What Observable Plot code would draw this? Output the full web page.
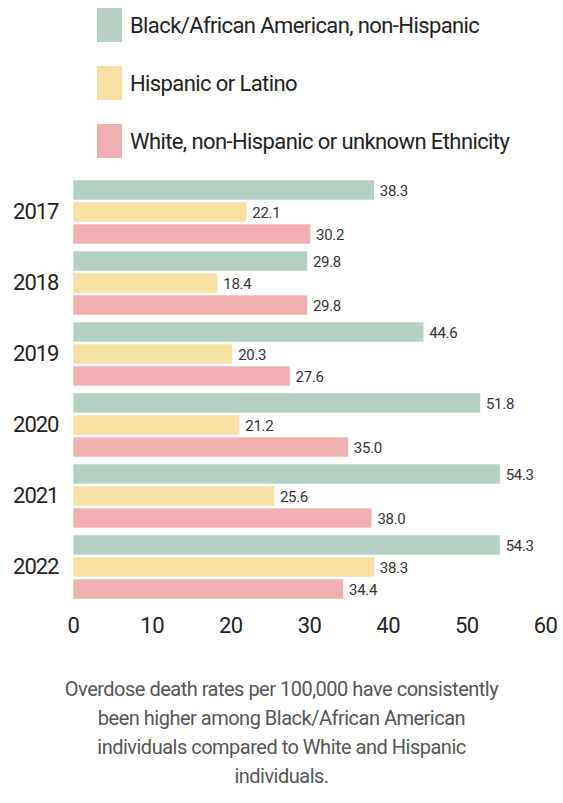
<!DOCTYPE html>
<html>
<head>
<meta charset="utf-8">
<script src="https://cdn.jsdelivr.net/npm/d3@7"></script>
<script src="https://cdn.jsdelivr.net/npm/@observablehq/plot@0.6"></script>
<style>
  html, body { margin: 0; padding: 0; background: #fff; }
  body { width: 563px; font-family: Roboto, "Liberation Sans", sans-serif; }
  #legend { height: 165px; position: relative; }
  .row { position: absolute; left: 97px; height: 34px; display: flex; align-items: center; white-space: nowrap; }
  .sw { width: 25px; height: 34px; margin-right: 8px; }
  .lab { font-size: 22px; color: #222; letter-spacing: -0.6px; }
  #caption { text-align: center; font-size: 20px; line-height: 29px; color: #555; padding: 20px 0 0 0; white-space: nowrap; letter-spacing: -0.5px; }
  .fyax text { letter-spacing: -1px; }
  .xax text { letter-spacing: -0.5px; }
  .vals text { letter-spacing: -0.3px; }
</style>
</head>
<body>
<div id="legend"></div>
<div id="chart"></div>
<div id="caption">Overdose death rates per 100,000 have consistently<br>been higher among Black/African American<br>individuals compared to White and Hispanic<br>individuals.</div>
<script>
const years = ["2017", "2018", "2019", "2020", "2021", "2022"];
const groups = ["Black/African American, non-Hispanic", "Hispanic or Latino", "White, non-Hispanic or unknown Ethnicity"];
const black = [38.3, 29.8, 44.6, 51.8, 54.3, 54.3];
const hispanic = [22.1, 18.4, 20.3, 21.2, 25.6, 38.3];
const white = [30.2, 29.8, 27.6, 35.0, 38.0, 34.4];
const xTicks = [0, 10, 20, 30, 40, 50, 60];
const colors = ["#b3d0c3", "#f8e0a4", "#f0b0b1"];

const series = [black, hispanic, white];
const data = [];
years.forEach((yr, i) => groups.forEach((g, j) => data.push({year: yr, group: g, value: series[j][i]})));

// legend
const legend = document.getElementById("legend");
groups.forEach((g, j) => {
  const row = document.createElement("div");
  row.className = "row";
  row.style.top = (8 + j * 58) + "px";
  row.innerHTML = `<div class="sw" style="background:${colors[j]}"></div><div class="lab">${g}</div>`;
  legend.appendChild(row);
});

const font = 'Roboto, "Liberation Sans", sans-serif';
const chart = Plot.plot({
  width: 563,
  height: 490,
  marginTop: 12,
  marginBottom: 54,
  marginLeft: 73,
  marginRight: 18,
  style: {fontFamily: font, color: "#222", background: "#fff"},
  x: {domain: [0, 60], ticks: xTicks, label: null, tickSize: 0, tickPadding: 18},
  y: {domain: groups, axis: null, paddingInner: 0.1, paddingOuter: 0},
  fy: {domain: years, label: null, paddingInner: 0.09, paddingOuter: 0},
  color: {domain: groups, range: colors},
  marks: [
    Plot.axisX({ticks: xTicks, tickSize: 0, tickPadding: 18, fontSize: 22, label: null, className: "xax"}),
    Plot.axisFy({anchor: "left", tickSize: 0, tickPadding: 15, fontSize: 22, label: null, className: "fyax"}),
    Plot.barX(data, {x: "value", y: "group", fy: "year", fill: "group", stroke: "#fff", strokeWidth: 0.6}),
    Plot.text(data, {x: "value", y: "group", fy: "year", text: d => d.value.toFixed(1), textAnchor: "start", dx: 5, dy: 1, fontSize: 15, fill: "#333", className: "vals"})
  ]
});
document.getElementById("chart").appendChild(chart);
</script>
</body>
</html>
